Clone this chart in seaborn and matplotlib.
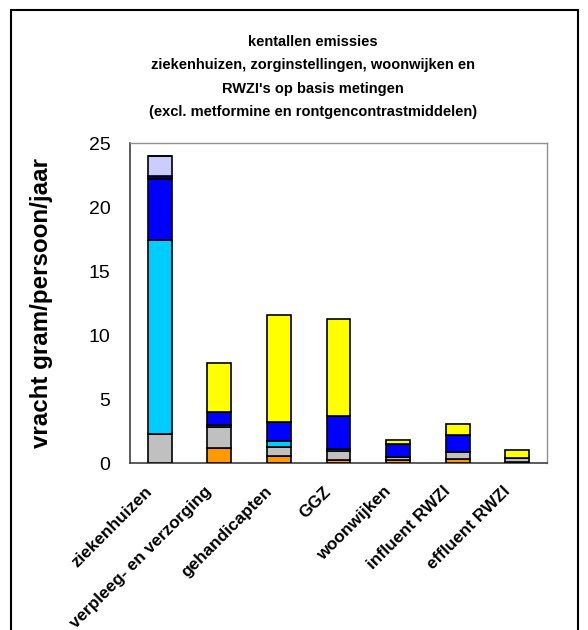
import numpy as np
import pandas as pd
import matplotlib
matplotlib.use("Agg")
import matplotlib.pyplot as plt
import seaborn as sns
from matplotlib.patches import Rectangle
from matplotlib.transforms import ScaledTranslation

sns.set_style("white")
plt.rcParams["font.family"] = ["Liberation Sans", "DejaVu Sans"]
plt.rcParams["text.color"] = "black"
plt.rcParams["axes.labelcolor"] = "black"
plt.rcParams["xtick.color"] = "black"
plt.rcParams["ytick.color"] = "black"

categories = ["ziekenhuizen", "verpleeg- en verzorging", "gehandicapten", "GGZ",
              "woonwijken", "influent RWZI", "effluent RWZI"]

# stacked components (gram/persoon/jaar), bottom to top
oranje = [0.00, 1.17, 0.52, 0.20, 0.20, 0.34, 0.05]
grijs = [2.27, 1.64, 0.73, 0.70, 0.24, 0.52, 0.35]
lichtblauw = [15.18, 0.18, 0.44, 0.20, 0.00, 0.00, 0.00]
blauw = [4.75, 0.99, 1.51, 2.60, 1.06, 1.30, 0.00]
donkerblauw = [0.20, 0.00, 0.00, 0.00, 0.00, 0.00, 0.00]
lila = [1.60, 0.00, 0.00, 0.00, 0.00, 0.00, 0.00]
geel = [0.00, 3.83, 8.38, 7.55, 0.32, 0.89, 0.65]

series = [
    (oranje, "#FF9900"),
    (grijs, "#C0C0C0"),
    (lichtblauw, "#00CCFF"),
    (blauw, "#0000FF"),
    (donkerblauw, "#000080"),
    (lila, "#CCCCFF"),
    (geel, "#FFFF00"),
]

yticks = [0, 5, 10, 15, 20, 25]

fig = plt.figure(figsize=(5.88, 6.3), dpi=100)
ax = fig.add_axes([130 / 588, 1 - 463 / 630, 417 / 588, 320 / 630])

bottom = np.zeros(len(categories))
for values, color in series:
    vals = np.array(values, dtype=float)
    df = pd.DataFrame({"categorie": categories, "vracht": vals})
    sns.barplot(data=df, x="categorie", y="vracht", color=color, width=0.4,
                bottom=bottom, edgecolor="black", linewidth=1.2,
                saturation=1, ax=ax, zorder=3)
    bottom = bottom + vals

ax.set_xlim(-0.5, len(categories) - 0.5)
ax.set_ylim(0, 25)
ax.set_yticks(yticks)
ax.set_yticklabels([str(t) for t in yticks], fontsize=14)

ax.set_xticks(range(len(categories)))
ax.set_xticklabels(categories, rotation=45, ha="right", rotation_mode="anchor",
                   fontsize=12.3, fontweight="bold")
ax.set_xticks(np.arange(-0.5, len(categories)), minor=True)
ax.tick_params(axis="x", which="major", length=0, pad=15)
ax.tick_params(axis="x", which="minor", length=5, width=1, color="#404040", direction="out")
ax.tick_params(axis="y", length=5, width=1, color="#404040", direction="out", pad=9)

# nudge the slanted category labels so their ends sit left of the bar centres
shift = ScaledTranslation(-15 / 100, 0, fig.dpi_scale_trans)
for lbl in ax.get_xticklabels():
    lbl.set_transform(lbl.get_transform() + shift)

ax.set_xlabel("")
ax.set_ylabel("vracht gram/persoon/jaar", fontsize=17.4, fontweight="bold", labelpad=26)

for side in ["left", "bottom"]:
    ax.spines[side].set_color("#404040")
    ax.spines[side].set_linewidth(1.2)
for side in ["top", "right"]:
    ax.spines[side].set_color("#909090")
    ax.spines[side].set_linewidth(1)

title = ("kentallen emissies\n"
         "ziekenhuizen, zorginstellingen, woonwijken en\n"
         "RWZI's op basis metingen\n"
         "(excl. metformine en rontgencontrastmiddelen)")
fig.text(313 / 588, 1 - 35 / 630, title, ha="center", va="top", fontsize=10.5,
         fontweight="bold", linespacing=1.85)

fig.patches.append(Rectangle((11 / 588, -0.02), 567 / 588, 1.02 - 10 / 630,
                             transform=fig.transFigure, fill=False,
                             edgecolor="black", linewidth=1.5))

fig.savefig("out.png", dpi=100)
